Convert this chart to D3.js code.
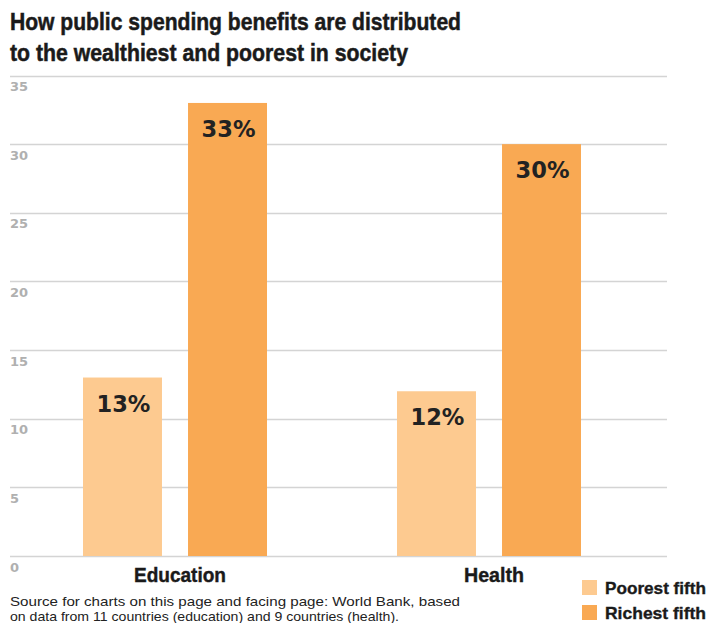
<!DOCTYPE html>
<html><head><meta charset="utf-8">
<script src="https://cdn.jsdelivr.net/npm/d3@7"></script>
<style>body{margin:0;background:#fff;overflow:hidden}svg{display:block}</style>
</head><body>
<script>
const categories = ["Education", "Health"];
const seriesNames = ["Poorest fifth", "Richest fifth"];
const poorest = [13, 12];
const richest = [33, 30];
const yTicks = [0, 5, 10, 15, 20, 25, 30, 35];
const titleLines = ["How public spending benefits are distributed", "to the wealthiest and poorest in society"];
const sourceLines = ["Source for charts on this page and facing page: World Bank, based", "on data from 11 countries (education) and 9 countries (health)."];
const colors = ["#FDCA90", "#F9A953"];

const W = 708, H = 623;
const svg = d3.select("body").append("svg").attr("width", W).attr("height", H);
const narrow = "'Liberation Sans',Arial,sans-serif";

// title (condensed: fitted widths)
const titleW = [451, 398];
svg.selectAll("text.title").data(titleLines).join("text")
  .attr("class", "title")
  .attr("x", 10).attr("y", (d, i) => 29.5 + i * 31.5)
  .attr("font-family", narrow).attr("font-weight", "bold").attr("font-size", 24)
  .attr("textLength", (d, i) => titleW[i]).attr("lengthAdjust", "spacingAndGlyphs")
  .attr("fill", "#1a1a1a").attr("stroke", "#1a1a1a").attr("stroke-width", 0.5)
  .text(d => d);

const y = d3.scaleLinear().domain([0, 35]).range([556, 75.5]);
const x0 = d3.scaleBand().domain(categories).range([20.2, 643.8]).paddingInner(0.414).paddingOuter(0.2);
const x1 = d3.scaleBand().domain(seriesNames).range([0, x0.bandwidth()]).paddingInner(0.248).paddingOuter(0);

// gridlines
const g = svg.append("g");
g.selectAll("line").data(yTicks).join("line")
  .attr("x1", 10).attr("x2", 667)
  .attr("y1", d => Math.round(y(d)) + 0.5).attr("y2", d => Math.round(y(d)) + 0.5)
  .attr("stroke", "#d4d4d4").attr("stroke-width", 1.3);
g.selectAll("text").data(yTicks).join("text")
  .attr("x", 10).attr("y", d => y(d) + 15.5)
  .attr("font-family", "'DejaVu Sans',sans-serif").attr("font-weight", "bold").attr("font-size", 13)
  .attr("fill", "#b0b0b0").text(d => d);

const data = categories.map((c, i) => ({c, vals: [poorest[i], richest[i]]}));
const grp = svg.selectAll("g.cat").data(data).join("g").attr("class", "cat")
  .attr("transform", d => `translate(${x0(d.c)},0)`);
grp.selectAll("rect").data(d => d.vals.map((v, j) => ({v, s: seriesNames[j], j}))).join("rect")
  .attr("x", d => x1(d.s)).attr("width", x1.bandwidth())
  .attr("y", d => y(d.v)).attr("height", d => y(0) - y(d.v))
  .attr("fill", d => colors[d.j]);
grp.selectAll("text.val").data(d => d.vals.map((v, j) => ({v, s: seriesNames[j]}))).join("text")
  .attr("class", "val")
  .attr("x", d => x1(d.s) + x1.bandwidth() / 2 + 1).attr("y", d => y(d.v) + 34)
  .attr("text-anchor", "middle")
  .attr("font-family", "'DejaVu Sans',sans-serif").attr("font-weight", "bold").attr("font-size", 22.5)
  .attr("fill", "#222").text(d => d.v + "%");
const catW = {Education: 92, Health: 60};
grp.append("text")
  .attr("x", x0.bandwidth() / 2 + 5).attr("y", 582)
  .attr("text-anchor", "middle")
  .attr("font-family", narrow).attr("font-weight", "bold").attr("font-size", 20)
  .attr("textLength", d => catW[d.c]).attr("lengthAdjust", "spacingAndGlyphs")
  .attr("fill", "#1a1a1a").attr("stroke", "#1a1a1a").attr("stroke-width", 0.4)
  .text(d => d.c);

const srcW = [450, 389];
svg.selectAll("text.src").data(sourceLines).join("text")
  .attr("class", "src")
  .attr("x", 10).attr("y", (d, i) => 606 + i * 14.5)
  .attr("font-family", narrow).attr("font-size", 13.5)
  .attr("textLength", (d, i) => srcW[i]).attr("lengthAdjust", "spacingAndGlyphs")
  .attr("fill", "#222").text(d => d);

const leg = svg.selectAll("g.leg").data(seriesNames).join("g").attr("class", "leg")
  .attr("transform", (d, i) => `translate(582,${580 + i * 25})`);
leg.append("rect").attr("width", 15).attr("height", 15).attr("fill", (d, i) => colors[i]);
leg.append("text").attr("x", 23).attr("y", 14)
  .attr("font-family", narrow).attr("font-weight", "bold").attr("font-size", 16.5)
  .attr("textLength", 101).attr("lengthAdjust", "spacingAndGlyphs")
  .attr("fill", "#1a1a1a").attr("stroke", "#1a1a1a").attr("stroke-width", 0.35)
  .text(d => d);
</script>
</body></html>
